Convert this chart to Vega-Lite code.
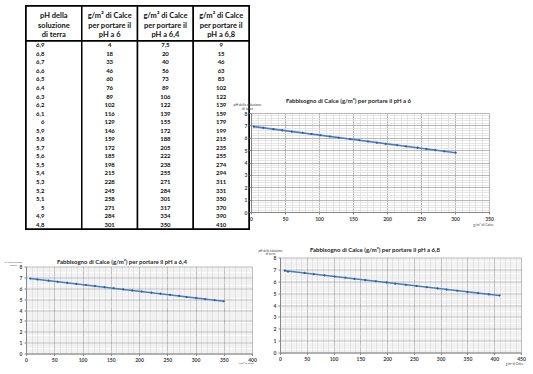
{
  "$schema": "https://vega.github.io/schema/vega-lite/v6.json",
  "background": "white",
  "padding": {"left": 4, "top": 4, "right": 0, "bottom": 0},
  "datasets": {
    "t": [
      {"ph": 6.9, "c6": 4, "c64": 7.5, "c68": 9},
      {"ph": 6.8, "c6": 18, "c64": 20, "c68": 15},
      {"ph": 6.7, "c6": 33, "c64": 40, "c68": 46},
      {"ph": 6.6, "c6": 46, "c64": 56, "c68": 63},
      {"ph": 6.5, "c6": 60, "c64": 73, "c68": 83},
      {"ph": 6.4, "c6": 76, "c64": 89, "c68": 102},
      {"ph": 6.3, "c6": 89, "c64": 106, "c68": 122},
      {"ph": 6.2, "c6": 102, "c64": 122, "c68": 139},
      {"ph": 6.1, "c6": 116, "c64": 139, "c68": 159},
      {"ph": 6.0, "c6": 129, "c64": 155, "c68": 179},
      {"ph": 5.9, "c6": 146, "c64": 172, "c68": 199},
      {"ph": 5.8, "c6": 159, "c64": 188, "c68": 215},
      {"ph": 5.7, "c6": 172, "c64": 205, "c68": 235},
      {"ph": 5.6, "c6": 185, "c64": 222, "c68": 255},
      {"ph": 5.5, "c6": 198, "c64": 238, "c68": 274},
      {"ph": 5.4, "c6": 215, "c64": 255, "c68": 294},
      {"ph": 5.3, "c6": 228, "c64": 271, "c68": 311},
      {"ph": 5.2, "c6": 245, "c64": 284, "c68": 331},
      {"ph": 5.1, "c6": 258, "c64": 301, "c68": 350},
      {"ph": 5.0, "c6": 271, "c64": 317, "c68": 370},
      {"ph": 4.9, "c6": 284, "c64": 334, "c68": 390},
      {"ph": 4.8, "c6": 301, "c64": 350, "c68": 410}
    ]
  },
  "config": {
    "font": "Lato",
    "view": {"stroke": null},
    "locale": {"number": {"decimal": ",", "thousands": ".", "grouping": [3], "currency": ["€", ""]}},
    "axis": {
      "labelFont": "Lato", "titleFont": "Lato",
      "labelFontSize": 5, "labelFontWeight": "bold", "labelColor": "#404040",
      "labelPadding": 2, "labelOverlap": false, "labelFlush": false,
      "tickSize": 2, "tickColor": "#868686", "domainColor": "#868686",
      "titleFontWeight": "normal", "titleColor": "#404040",
      "titleAngle": 0, "titleAlign": "center", "titleBaseline": "bottom",
      "gridWidth": 0.8
    }
  },
  "spacing": 15.5,
  "vconcat": [
    {
      "spacing": -19,
      "hconcat": [
        {
          "bounds": "flush",
          "spacing": 0,
          "vconcat": [
            {
              "width": 223, "height": 35,
              "view": {"stroke": "black", "strokeWidth": 2},
              "data": {"values": [
                {"col": "ph", "head": "pH della|soluzione|di terra"},
                {"col": "c6", "head": "g/m² di Calce|per portare il|pH a 6"},
                {"col": "c64", "head": "g/m² di Calce|per portare il|pH a 6,4"},
                {"col": "c68", "head": "g/m² di Calce|per portare il|pH a 6,8"}
              ]},
              "encoding": {"x": {"field": "col", "type": "nominal", "sort": ["ph", "c6", "c64", "c68"], "axis": null, "scale": {"type": "band", "paddingInner": 0, "paddingOuter": 0}}},
              "layer": [
                {"mark": {"type": "rect", "fill": "white", "stroke": "black", "strokeWidth": 1.5}},
                {"mark": {"type": "text", "lineBreak": "|", "fontSize": 7.5, "fontWeight": "bold", "lineHeight": 9.5, "baseline": "top", "dy": -11.5, "color": "#111"}, "encoding": {"text": {"field": "head"}}}
              ]
            },
            {
              "width": 223, "height": 188,
              "view": {"stroke": "black", "strokeWidth": 2},
              "data": {"name": "t"},
              "transform": [{"fold": ["ph", "c6", "c64", "c68"], "as": ["col", "val"]}],
              "encoding": {"x": {"field": "col", "type": "nominal", "sort": ["ph", "c6", "c64", "c68"], "axis": null, "scale": {"type": "band", "paddingInner": 0, "paddingOuter": 0}}},
              "layer": [
                {"mark": {"type": "rect", "fill": "white", "stroke": "black", "strokeWidth": 1.5}},
                {
                  "transform": [{"filter": "datum.col === 'ph'"}],
                  "mark": {"type": "text", "align": "right", "dx": -9.4, "fontSize": 6, "fontWeight": "bold", "color": "#111"},
                  "encoding": {
                    "y": {"field": "ph", "type": "ordinal", "sort": "descending", "axis": null, "scale": {"type": "band", "paddingInner": 0, "paddingOuter": 0}},
                    "text": {"field": "val", "type": "quantitative", "format": "~g"}
                  }
                },
                {
                  "transform": [{"filter": "datum.col !== 'ph'"}],
                  "mark": {"type": "text", "fontSize": 6, "fontWeight": "bold", "color": "#111"},
                  "encoding": {
                    "y": {"field": "ph", "type": "ordinal", "sort": "descending", "axis": null, "scale": {"type": "band", "paddingInner": 0, "paddingOuter": 0}},
                    "text": {"field": "val", "type": "quantitative", "format": "~g"}
                  }
                }
              ]
            }
          ]
        },
        {
          "bounds": "flush",
          "spacing": 0,
          "vconcat": [
            {"width": 1, "height": 107, "data": {"values": [{}]}, "mark": {"type": "point", "opacity": 0}},
            {
              "width": 238, "height": 99,
              "data": {"name": "t"},
              "title": {"text": "Fabbisogno di Calce (g/m²) per portare il pH a 6", "anchor": "start", "frame": "group", "dx": 35, "offset": -1.5, "fontSize": 6, "fontWeight": "bold", "color": "#262626"},
              "encoding": {
                "x": {"field": "c6", "type": "quantitative", "scale": {"domain": [0, 350], "nice": false},
                  "axis": {"title": "g/m² di Calce", "titleFontSize": 3.5, "titleX": 232, "titleY": 14, "tickCount": 35,
                    "labelExpr": "datum.value % 50 === 0 ? datum.label : ''",
                    "tickOpacity": {"condition": {"test": "datum.value % 50 === 0", "value": 1}, "value": 0},
                    "gridColor": {"condition": {"test": "datum.value % 50 === 0", "value": "#a6a6a6"}, "value": "#dedede"}}},
                "y": {"field": "ph", "type": "quantitative", "scale": {"domain": [0, 8], "nice": false},
                  "axis": {"title": ["pH della soluzione", "di terra"], "titleAlign": "center", "titleFontSize": 3.5, "titleLineHeight": 4, "titleX": -4, "titleY": -6.5, "tickCount": 40, "format": "~g",
                    "labelExpr": "abs(datum.value - round(datum.value)) < 0.001 ? datum.label : ''",
                    "tickOpacity": {"condition": {"test": "abs(datum.value - round(datum.value)) < 0.001", "value": 1}, "value": 0},
                    "gridColor": {"condition": {"test": "abs(datum.value - round(datum.value)) < 0.001", "value": "#a6a6a6"}, "value": "#dedede"}}}
              },
              "layer": [
                {"transform": [{"regression": "ph", "on": "c6"}], "mark": {"type": "line", "color": "#4a7dbf", "strokeWidth": 1.6}},
                {"mark": {"type": "point", "shape": "diamond", "filled": true, "size": 7, "color": "#2e5c9e", "opacity": 1}},
                {"data": {"values": [{}]}, "mark": {"type": "text", "fontSize": 6.5, "fontWeight": "bold", "color": "#222"},
                  "encoding": {"x": {"datum": 251}, "y": {"datum": 6.79}, "text": {"value": "y = - 0,0071x + 6,9292"}}}
              ]
            }
          ]
        }
      ]
    },
    {
      "spacing": 0,
      "hconcat": [
        {
          "bounds": "flush",
          "spacing": 0,
          "vconcat": [
            {"width": 1, "height": 9, "data": {"values": [{}]}, "mark": {"type": "point", "opacity": 0}},
            {
              "width": 226, "height": 87,
              "data": {"name": "t"},
              "title": {"text": "Fabbisogno di Calce (g/m²) per portare il pH a 6,4", "anchor": "start", "frame": "group", "dx": 31, "offset": -4, "fontSize": 6, "fontWeight": "bold", "color": "#262626"},
              "encoding": {
                "x": {"field": "c64", "type": "quantitative", "scale": {"domain": [0, 400], "nice": false},
                  "axis": {"title": "g/m² di Calce", "titleFontSize": 2.5, "titleX": 220, "titleY": 11, "tickCount": 40,
                    "labelExpr": "datum.value % 50 === 0 ? datum.label : ''",
                    "tickOpacity": {"condition": {"test": "datum.value % 50 === 0", "value": 1}, "value": 0},
                    "gridColor": {"condition": {"test": "datum.value % 50 === 0", "value": "#a6a6a6"}, "value": "#dedede"}}},
                "y": {"field": "ph", "type": "quantitative", "scale": {"domain": [0, 8], "nice": false},
                  "axis": {"title": ["pH della soluzione", "di terra"], "titleAlign": "center", "titleFontSize": 2.2, "titleLineHeight": 3, "titleX": -13, "titleY": -4, "tickCount": 40, "format": "~g",
                    "labelExpr": "abs(datum.value - round(datum.value)) < 0.001 ? datum.label : ''",
                    "tickOpacity": {"condition": {"test": "abs(datum.value - round(datum.value)) < 0.001", "value": 1}, "value": 0},
                    "gridColor": {"condition": {"test": "abs(datum.value - round(datum.value)) < 0.001", "value": "#a6a6a6"}, "value": "#dedede"}}}
              },
              "layer": [
                {"transform": [{"regression": "ph", "on": "c64"}], "mark": {"type": "line", "color": "#4a7dbf", "strokeWidth": 1.6}},
                {"mark": {"type": "point", "shape": "diamond", "filled": true, "size": 7, "color": "#2e5c9e", "opacity": 1}},
                {"data": {"values": [{}]}, "mark": {"type": "text", "fontSize": 6.5, "fontWeight": "bold", "color": "#222"},
                  "encoding": {"x": {"datum": 273}, "y": {"datum": 6.53}, "text": {"value": "y = - 0,0061x + 6,944"}}}
              ]
            }
          ]
        },
        {
          "width": 241, "height": 95,
          "data": {"name": "t"},
          "title": {"text": "Fabbisogno di Calce (g/m²) per portare il pH a 6,8", "anchor": "start", "frame": "group", "dx": 30, "offset": -3.5, "fontSize": 6, "fontWeight": "bold", "color": "#262626"},
          "encoding": {
            "x": {"field": "c68", "type": "quantitative", "scale": {"domain": [0, 450], "nice": false},
              "axis": {"title": "g/m² di Calce", "titleFontSize": 3, "titleX": 234, "titleY": 13, "tickCount": 45,
                "labelExpr": "datum.value % 50 === 0 ? datum.label : ''",
                "tickOpacity": {"condition": {"test": "datum.value % 50 === 0", "value": 1}, "value": 0},
                "gridColor": {"condition": {"test": "datum.value % 50 === 0", "value": "#a6a6a6"}, "value": "#dedede"}}},
            "y": {"field": "ph", "type": "quantitative", "scale": {"domain": [0, 8], "nice": false},
              "axis": {"title": ["pH della soluzione", "di terra"], "titleAlign": "center", "titleFontSize": 3, "titleLineHeight": 3.5, "titleX": -10, "titleY": -5.5, "tickCount": 40, "format": "~g",
                "labelExpr": "abs(datum.value - round(datum.value)) < 0.001 ? datum.label : ''",
                "tickOpacity": {"condition": {"test": "abs(datum.value - round(datum.value)) < 0.001", "value": 1}, "value": 0},
                "gridColor": {"condition": {"test": "abs(datum.value - round(datum.value)) < 0.001", "value": "#a6a6a6"}, "value": "#dedede"}}}
          },
          "layer": [
            {"transform": [{"regression": "ph", "on": "c68"}], "mark": {"type": "line", "color": "#4a7dbf", "strokeWidth": 1.6}},
            {"mark": {"type": "point", "shape": "diamond", "filled": true, "size": 7, "color": "#2e5c9e", "opacity": 1}},
            {"data": {"values": [{}]}, "mark": {"type": "text", "fontSize": 6.5, "fontWeight": "bold", "color": "#222"},
              "encoding": {"x": {"datum": 334}, "y": {"datum": 6.4}, "text": {"value": "y = - 0,0052x + 6,9259"}}}
          ]
        }
      ]
    }
  ]
}
